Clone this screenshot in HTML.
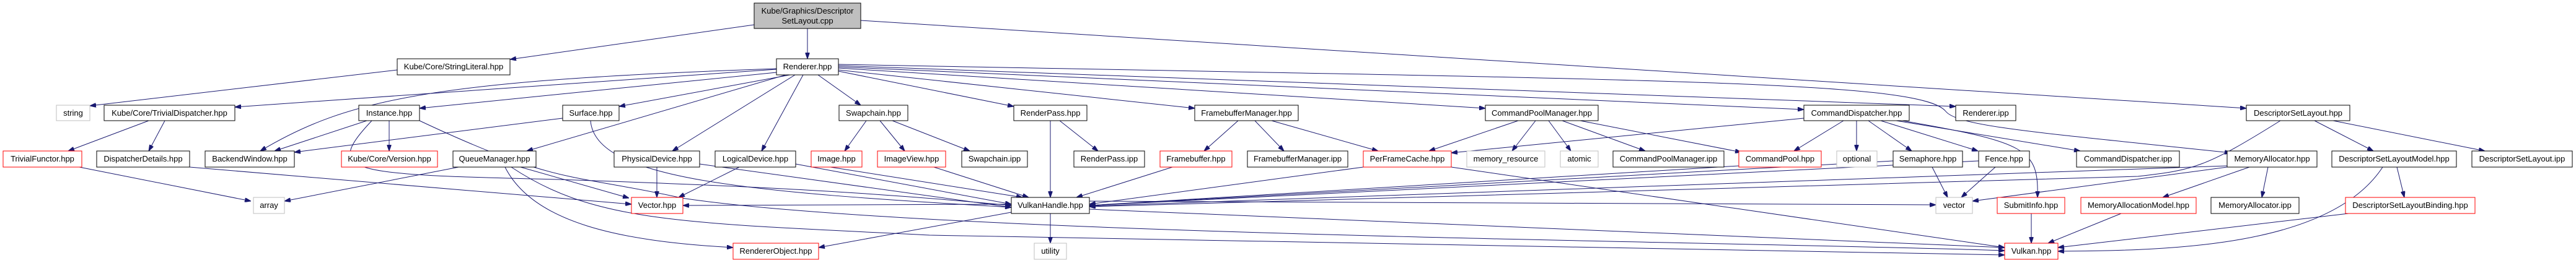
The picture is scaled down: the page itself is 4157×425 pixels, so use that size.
<!DOCTYPE html>
<html><head><meta charset="utf-8"><style>
html,body{margin:0;padding:0;background:#fff;}
svg{display:block;}
text{font-family:"Liberation Sans",sans-serif;font-size:13px;fill:#000;text-anchor:middle;}
.n{fill:#fff;stroke:#000;stroke-width:1;}
.r{fill:#fff;stroke:#ff0000;stroke-width:1;}
.g{fill:#fff;stroke:#bfbfbf;stroke-width:1;}
.e{fill:none;stroke:#191970;stroke-width:1;}
</style></head><body>
<svg width="4157" height="425" viewBox="0 0 4157 425" xmlns="http://www.w3.org/2000/svg">
<defs><marker id="a" markerWidth="10" markerHeight="7" refX="10" refY="3.5" orient="auto" markerUnits="userSpaceOnUse"><path d="M0,0 L10,3.5 L0,7 z" fill="#191970" stroke="#191970"/></marker></defs>
<g class="e" marker-end="url(#a)">
<path marker-end="url(#a)" d="M1217,40 L823,96"/>
<path marker-end="url(#a)" d="M1303,46 L1303,95"/>
<path marker-end="url(#a)" d="M1389,33 L3625,175"/>
<path marker-end="url(#a)" d="M641,113 C400,140 250,160 145,171"/>
<path marker-end="url(#a)" d="M1253,112 L379,173"/>
<path marker-end="url(#a)" d="M1253,111 C700,130 560,160 420,244"/>
<path marker-end="url(#a)" d="M1253,117 L677,175"/>
<path marker-end="url(#a)" d="M1275,121 L999,172"/>
<path marker-end="url(#a)" d="M1268,121 L850,244"/>
<path marker-end="url(#a)" d="M1283,121 L1085,244"/>
<path marker-end="url(#a)" d="M1296,121 L1229,244"/>
<path marker-end="url(#a)" d="M1320,121 L1389,170"/>
<path marker-end="url(#a)" d="M1353,115 L1636,172"/>
<path marker-end="url(#a)" d="M1353,113 L1928,175"/>
<path marker-end="url(#a)" d="M1353,110 L2397,175"/>
<path marker-end="url(#a)" d="M1353,108 L2911,177"/>
<path marker-end="url(#a)" d="M1353,106 L3156,172"/>
<path marker-end="url(#a)" d="M1353,104 C2700,130 3100,130 3140,180 C3160,205 3300,215 3600,247"/>
<path marker-end="url(#a)" d="M2911,191 L2342,247"/>
<path marker-end="url(#a)" d="M2975,195 L2895,244"/>
<path marker-end="url(#a)" d="M2996,195 L2996,244"/>
<path marker-end="url(#a)" d="M3015,195 L3085,244"/>
<path marker-end="url(#a)" d="M3035,195 L3192,244"/>
<path marker-end="url(#a)" d="M3060,195 L3357,244"/>
<path marker-end="url(#a)" d="M3070,195 C3270,230 3290,240 3288,319"/>
<path marker-end="url(#a)" d="M240,195 L110,244"/>
<path marker-end="url(#a)" d="M266,195 L240,244"/>
<path marker-end="url(#a)" d="M128,270 L405,325"/>
<path marker-end="url(#a)" d="M306,270 L1019,330"/>
<path marker-end="url(#a)" d="M592,195 L443,244"/>
<path marker-end="url(#a)" d="M628,195 L628,244"/>
<path marker-end="url(#a)" d="M600,195 C520,280 560,282 900,290 C1200,300 1400,310 1632,332"/>
<path marker-end="url(#a)" d="M677,195 C900,300 920,280 1100,320 C1500,380 2800,390 3235,405"/>
<path marker-end="url(#a)" d="M908,191 L475,246"/>
<path marker-end="url(#a)" d="M953,195 C960,290 1200,310 1632,335"/>
<path marker-end="url(#a)" d="M740,270 L459,325"/>
<path marker-end="url(#a)" d="M840,270 L1015,320"/>
<path marker-end="url(#a)" d="M815,270 C860,360 1000,390 1183,400"/>
<path marker-end="url(#a)" d="M825,270 C960,360 1100,360 1500,380 L3235,412"/>
<path marker-end="url(#a)" d="M1060,270 L1060,319"/>
<path marker-end="url(#a)" d="M1129,265 L1632,335"/>
<path marker-end="url(#a)" d="M1193,270 L1095,319"/>
<path marker-end="url(#a)" d="M1284,265 L1632,330"/>
<path marker-end="url(#a)" d="M1632,330 L1102,332"/>
<path marker-end="url(#a)" d="M1340,270 L1650,319"/>
<path marker-end="url(#a)" d="M1507,270 L1660,319"/>
<path marker-end="url(#a)" d="M1398,195 L1363,244"/>
<path marker-end="url(#a)" d="M1420,195 L1460,244"/>
<path marker-end="url(#a)" d="M1440,195 L1565,244"/>
<path marker-end="url(#a)" d="M1695,195 L1695,319"/>
<path marker-end="url(#a)" d="M1710,195 L1772,244"/>
<path marker-end="url(#a)" d="M1998,195 L1943,244"/>
<path marker-end="url(#a)" d="M2025,195 L2072,244"/>
<path marker-end="url(#a)" d="M2052,195 L2224,244"/>
<path marker-end="url(#a)" d="M1892,270 L1737,319"/>
<path marker-end="url(#a)" d="M2450,195 L2306,244"/>
<path marker-end="url(#a)" d="M2478,195 L2440,244"/>
<path marker-end="url(#a)" d="M2499,195 L2535,244"/>
<path marker-end="url(#a)" d="M2521,195 L2655,244"/>
<path marker-end="url(#a)" d="M2550,195 L2810,246"/>
<path marker-end="url(#a)" d="M2200,270 L1758,330"/>
<path marker-end="url(#a)" d="M2342,270 L3235,400"/>
<path marker-end="url(#a)" d="M2806,268 L1758,332"/>
<path marker-end="url(#a)" d="M3055,260 L1758,332"/>
<path marker-end="url(#a)" d="M3193,260 L1758,332"/>
<path marker-end="url(#a)" d="M3594,268 L1758,333"/>
<path marker-end="url(#a)" d="M3680,195 C3560,270 3540,275 3450,285 L1758,334"/>
<path marker-end="url(#a)" d="M3118,270 L3143,319"/>
<path marker-end="url(#a)" d="M3220,270 L3165,319"/>
<path marker-end="url(#a)" d="M3594,270 L3183,325"/>
<path marker-end="url(#a)" d="M1758,325 L3124,331"/>
<path marker-end="url(#a)" d="M1632,343 L1321,400"/>
<path marker-end="url(#a)" d="M1695,345 L1695,393"/>
<path marker-end="url(#a)" d="M1758,338 L3235,400"/>
<path marker-end="url(#a)" d="M3630,270 L3490,319"/>
<path marker-end="url(#a)" d="M3660,270 L3650,319"/>
<path marker-end="url(#a)" d="M3278,345 L3278,393"/>
<path marker-end="url(#a)" d="M3423,345 L3305,393"/>
<path marker-end="url(#a)" d="M3790,345 L3321,400"/>
<path marker-end="url(#a)" d="M3845,270 C3760,400 3500,405 3321,406"/>
<path marker-end="url(#a)" d="M3868,270 L3880,319"/>
<path marker-end="url(#a)" d="M3735,195 L3830,244"/>
<path marker-end="url(#a)" d="M3765,195 L4010,244"/>
</g>
<rect x="1217" y="5" width="172" height="41" fill="#bfbfbf" stroke="#000"/>
<text x="1303" y="22">Kube/Graphics/Descriptor</text><text x="1303" y="38">SetLayout.cpp</text>
<g>
<rect class="n" x="641" y="95" width="182" height="26"/><text x="732" y="112">Kube/Core/StringLiteral.hpp</text>
<rect class="n" x="1253" y="95" width="100" height="26"/><text x="1303" y="112">Renderer.hpp</text>

<rect class="g" x="91" y="170" width="54" height="25"/><text x="118" y="187">string</text>
<rect class="n" x="168" y="170" width="211" height="25"/><text x="273.5" y="187">Kube/Core/TrivialDispatcher.hpp</text>
<rect class="n" x="579" y="170" width="98" height="25"/><text x="628" y="187">Instance.hpp</text>
<rect class="n" x="908" y="170" width="91" height="25"/><text x="953.5" y="187">Surface.hpp</text>
<rect class="n" x="1354" y="170" width="111" height="25"/><text x="1409.5" y="187">Swapchain.hpp</text>
<rect class="n" x="1636" y="170" width="118" height="25"/><text x="1695" y="187">RenderPass.hpp</text>
<rect class="n" x="1928" y="170" width="167" height="25"/><text x="2011.5" y="187">FramebufferManager.hpp</text>
<rect class="n" x="2397" y="170" width="182" height="25"/><text x="2488" y="187">CommandPoolManager.hpp</text>
<rect class="n" x="2911" y="170" width="170" height="25"/><text x="2996" y="187">CommandDispatcher.hpp</text>
<rect class="n" x="3156" y="170" width="97" height="25"/><text x="3204.5" y="187">Renderer.ipp</text>
<rect class="n" x="3625" y="170" width="167" height="25"/><text x="3708.5" y="187">DescriptorSetLayout.hpp</text>

<rect class="r" x="5" y="244" width="127" height="26"/><text x="68.5" y="261">TrivialFunctor.hpp</text>
<rect class="n" x="156" y="244" width="150" height="26"/><text x="231" y="261">DispatcherDetails.hpp</text>
<rect class="n" x="331" y="244" width="144" height="26"/><text x="403" y="261">BackendWindow.hpp</text>
<rect class="r" x="551" y="244" width="155" height="26"/><text x="628.5" y="261">Kube/Core/Version.hpp</text>
<rect class="n" x="731" y="244" width="134" height="26"/><text x="798" y="261">QueueManager.hpp</text>
<rect class="n" x="991" y="244" width="138" height="26"/><text x="1060" y="261">PhysicalDevice.hpp</text>
<rect class="n" x="1154" y="244" width="130" height="26"/><text x="1219" y="261">LogicalDevice.hpp</text>
<rect class="r" x="1309" y="244" width="82" height="26"/><text x="1350" y="261">Image.hpp</text>
<rect class="r" x="1416" y="244" width="110" height="26"/><text x="1471" y="261">ImageView.hpp</text>
<rect class="n" x="1552" y="244" width="106" height="26"/><text x="1605" y="261">Swapchain.ipp</text>
<rect class="n" x="1733" y="244" width="114" height="26"/><text x="1790" y="261">RenderPass.ipp</text>
<rect class="r" x="1872" y="244" width="116" height="26"/><text x="1930" y="261">Framebuffer.hpp</text>
<rect class="n" x="2013" y="244" width="162" height="26"/><text x="2094" y="261">FramebufferManager.ipp</text>
<rect class="r" x="2200" y="244" width="142" height="26"/><text x="2271" y="261">PerFrameCache.hpp</text>
<rect class="g" x="2367" y="244" width="126" height="26"/><text x="2430" y="261">memory_resource</text>
<rect class="g" x="2518" y="244" width="61" height="26"/><text x="2548.5" y="261">atomic</text>
<rect class="n" x="2603" y="244" width="179" height="26"/><text x="2692.5" y="261">CommandPoolManager.ipp</text>
<rect class="r" x="2806" y="244" width="133" height="26"/><text x="2872.5" y="261">CommandPool.hpp</text>
<rect class="g" x="2964" y="244" width="65" height="26"/><text x="2996.5" y="261">optional</text>
<rect class="n" x="3055" y="244" width="112" height="26"/><text x="3111" y="261">Semaphore.hpp</text>
<rect class="n" x="3193" y="244" width="82" height="26"/><text x="3234" y="261">Fence.hpp</text>
<rect class="n" x="3351" y="244" width="166" height="26"/><text x="3434" y="261">CommandDispatcher.ipp</text>
<rect class="n" x="3594" y="244" width="145" height="26"/><text x="3666.5" y="261">MemoryAllocator.hpp</text>
<rect class="n" x="3763" y="244" width="201" height="26"/><text x="3863.5" y="261">DescriptorSetLayoutModel.hpp</text>
<rect class="n" x="3989" y="244" width="162" height="26"/><text x="4070" y="261">DescriptorSetLayout.ipp</text>

<rect class="g" x="409" y="319" width="50" height="26"/><text x="434" y="336">array</text>
<rect class="r" x="1019" y="319" width="83" height="26"/><text x="1060.5" y="336">Vector.hpp</text>
<rect class="n" x="1632" y="319" width="126" height="26"/><text x="1695" y="336">VulkanHandle.hpp</text>
<rect class="g" x="3124" y="319" width="59" height="26"/><text x="3153.5" y="336">vector</text>
<rect class="r" x="3223" y="319" width="109" height="26"/><text x="3277.5" y="336">SubmitInfo.hpp</text>
<rect class="r" x="3358" y="319" width="186" height="26"/><text x="3451" y="336">MemoryAllocationModel.hpp</text>
<rect class="n" x="3568" y="319" width="142" height="26"/><text x="3639" y="336">MemoryAllocator.ipp</text>
<rect class="r" x="3785" y="319" width="209" height="26"/><text x="3889.5" y="336">DescriptorSetLayoutBinding.hpp</text>

<rect class="r" x="1183" y="393" width="138" height="26"/><text x="1252" y="410">RendererObject.hpp</text>
<rect class="g" x="1669" y="393" width="52" height="26"/><text x="1695" y="410">utility</text>
<rect class="r" x="3235" y="393" width="86" height="26"/><text x="3278" y="410">Vulkan.hpp</text>
</g>
</svg>
</body></html>
